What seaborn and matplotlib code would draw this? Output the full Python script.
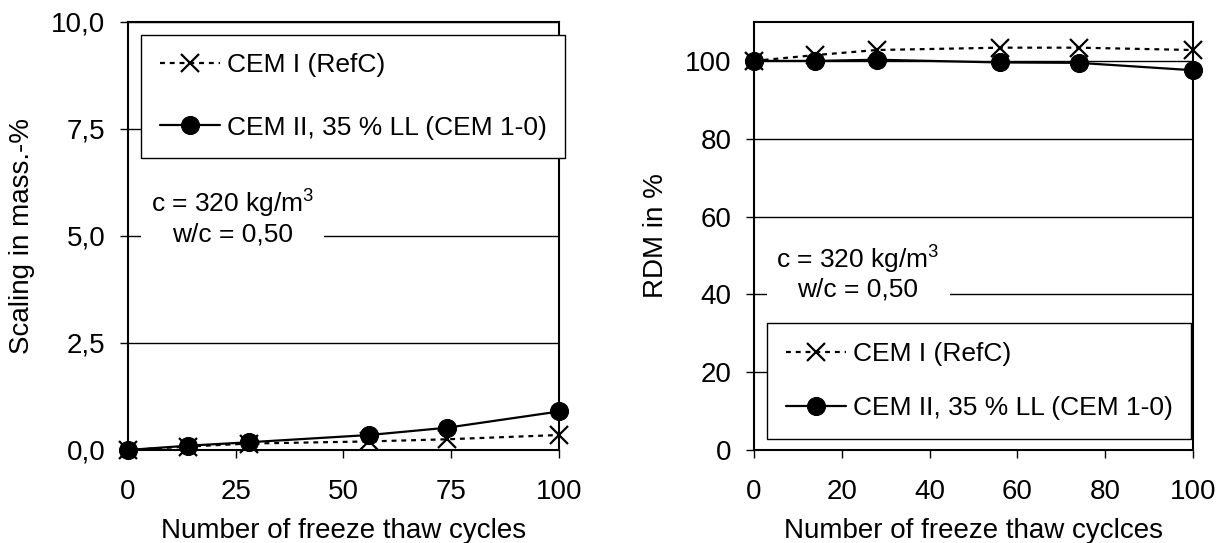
import matplotlib
matplotlib.use("Agg")
import matplotlib.pyplot as plt
import seaborn as sns
import pandas as pd

# ---- data ----
cycles = [0, 14, 28, 56, 74, 100]
scaling_cem1 = [0.0, 0.08, 0.15, 0.20, 0.25, 0.35]
scaling_cem2 = [0.0, 0.10, 0.18, 0.35, 0.52, 0.90]
rdm_cem1 = [100.0, 101.5, 102.8, 103.4, 103.4, 102.8]
rdm_cem2 = [100.0, 100.0, 100.3, 99.6, 99.5, 97.6]

label_cem1 = "CEM I (RefC)"
label_cem2 = "CEM II, 35 % LL (CEM 1-0)"
note_text = "c = 320 kg/m$^{3}$\nw/c = 0,50"

left_yticks = [0, 2.5, 5, 7.5, 10]
left_yticklabels = ["0,0", "2,5", "5,0", "7,5", "10,0"]
left_xticks = [0, 25, 50, 75, 100]
right_yticks = [0, 20, 40, 60, 80, 100]
right_xticks = [0, 20, 40, 60, 80, 100]

left_xlabel = "Number of freeze thaw cycles"
left_ylabel = "Scaling in mass.-%"
right_xlabel = "Number of freeze thaw cyclces"
right_ylabel = "RDM in %"

# ---- style ----
sns.set_style("white")
plt.rcParams["font.family"] = ["Liberation Sans", "DejaVu Sans"]
plt.rcParams["mathtext.fontset"] = "custom"
plt.rcParams["mathtext.rm"] = "Liberation Sans"
plt.rcParams["mathtext.it"] = "Liberation Sans"
plt.rcParams["mathtext.bf"] = "Liberation Sans"
plt.rcParams["text.color"] = "black"
plt.rcParams["axes.labelcolor"] = "black"
plt.rcParams["xtick.color"] = "black"
plt.rcParams["ytick.color"] = "black"
FS = 20
FS_SMALL = 19

fig = plt.figure(figsize=(12.26, 5.43), dpi=100)
axL = fig.add_axes([0.1042, 0.1713, 0.3518, 0.7882])
axR = fig.add_axes([0.6150, 0.1713, 0.3581, 0.7882])

df_left = pd.DataFrame({"cycles": cycles, "cem1": scaling_cem1, "cem2": scaling_cem2})
df_right = pd.DataFrame({"cycles": cycles, "cem1": rdm_cem1, "cem2": rdm_cem2})


def draw(ax, df, xticks, yticks, yticklabels, ylim, xlabel, ylabel,
         leg_anchor, leg_spacing, note_xy, ylabelpad):
    ax.set_axisbelow(True)
    for y in yticks[1:]:
        ax.axhline(y, color="black", lw=1.0, zorder=0)
    sns.lineplot(data=df, x="cycles", y="cem1", ax=ax, color="black",
                 linestyle=(0, (2.2, 2.2)), lw=1.6, marker="x", markersize=13,
                 markeredgewidth=1.6, markeredgecolor="black", label=label_cem1,
                 clip_on=False, zorder=3)
    sns.lineplot(data=df, x="cycles", y="cem2", ax=ax, color="black",
                 linestyle="-", lw=1.6, marker="o", markersize=13,
                 markerfacecolor="black", markeredgecolor="black",
                 label=label_cem2, clip_on=False, zorder=4)
    ax.set_xlim(0, 100)
    ax.set_ylim(*ylim)
    ax.set_xticks(xticks)
    ax.set_xticklabels([str(t) for t in xticks], fontsize=FS)
    ax.set_yticks(yticks)
    ax.set_yticklabels(yticklabels, fontsize=FS)
    ax.tick_params(axis="both", direction="out", length=6, width=1.0,
                   color="black", left=True, bottom=True)
    ax.tick_params(axis="x", pad=15)
    ax.tick_params(axis="y", pad=10)
    ax.set_xlabel(xlabel, fontsize=FS, labelpad=9)
    ax.set_ylabel(ylabel, fontsize=FS, labelpad=ylabelpad)
    for s in ax.spines.values():
        s.set_color("black")
        s.set_linewidth(1.5)
    leg = ax.legend(loc="upper left", bbox_to_anchor=leg_anchor, fontsize=FS_SMALL,
                    frameon=True, fancybox=False, framealpha=1.0,
                    edgecolor="black", handlelength=2.3, handletextpad=0.25,
                    borderpad=0.7, labelspacing=leg_spacing, numpoints=1,
                    borderaxespad=0)
    leg.get_frame().set_linewidth(1.0)
    leg.set_zorder(10)
    ax.text(note_xy[0], note_xy[1], note_text, transform=ax.transAxes,
            ha="center", va="center", multialignment="center", fontsize=FS_SMALL,
            linespacing=1.1, zorder=5,
            bbox=dict(facecolor="white", edgecolor="none", pad=7))


draw(axL, df_left, left_xticks, left_yticks, left_yticklabels, (0, 10),
     left_xlabel, left_ylabel, (0.031, 0.970), 1.45, (0.243, 0.544), 12)
draw(axR, df_right, right_xticks, right_yticks, [str(t) for t in right_yticks],
     (0, 110), right_xlabel, right_ylabel, (0.030, 0.296), 1.15, (0.237, 0.415), 12)

fig.savefig("out.png", dpi=100, facecolor="white")
